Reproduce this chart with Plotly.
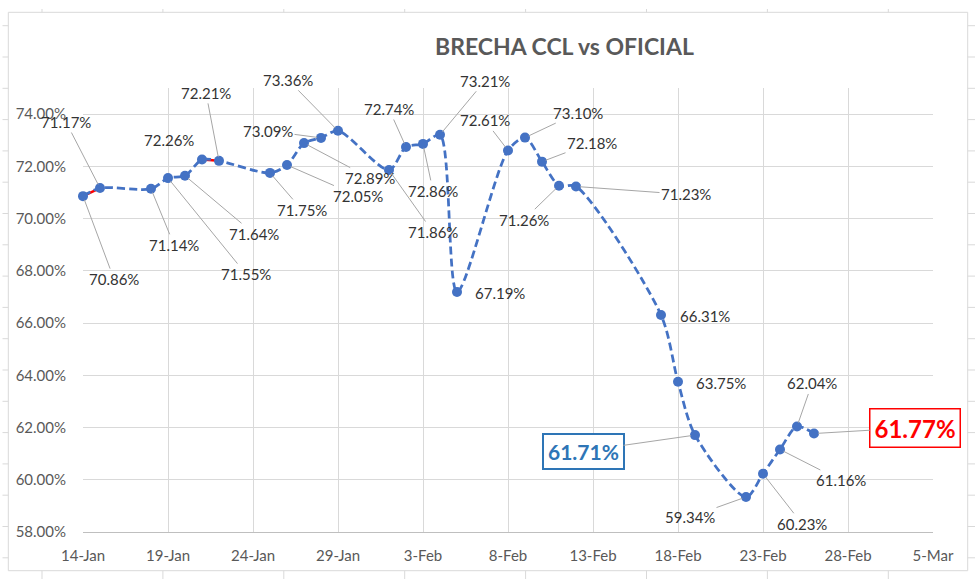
import plotly.graph_objects as go

# ---------------- data ----------------
dates = ["2021-01-14", "2021-01-15", "2021-01-18", "2021-01-19", "2021-01-20",
         "2021-01-21", "2021-01-22", "2021-01-25", "2021-01-26", "2021-01-27",
         "2021-01-28", "2021-01-29", "2021-02-01", "2021-02-02", "2021-02-03",
         "2021-02-04", "2021-02-05", "2021-02-08", "2021-02-09", "2021-02-10",
         "2021-02-11", "2021-02-12", "2021-02-17", "2021-02-18", "2021-02-19",
         "2021-02-22", "2021-02-23", "2021-02-24", "2021-02-25", "2021-02-26"]
brecha_pct = [70.86, 71.17, 71.14, 71.55, 71.64, 72.26, 72.21, 71.75, 72.05, 72.89,
              73.09, 73.36, 71.86, 72.74, 72.86, 73.21, 67.19, 72.61, 73.10, 72.18,
              71.26, 71.23, 66.31, 63.75, 61.71, 59.34, 60.23, 61.16, 62.04, 61.77]
red_segments = [(0, 1), (5, 6)]   # index pairs where a red line shows under the blue
title_text = "BRECHA CCL vs OFICIAL"

# ---------------- label placement (pixel offsets from point to label centre) ----------
label_offsets = [(31, 83), (-34, -66), (23, 56), (78, 96), (69, 58), (-33, -20), (-13, -68),
                 (32, 37), (71, 31), (66, 35), (-53, -7), (-50, -51), (44, 62), (-17, -38),
                 (10, 47), (45, -54), (43, 1), (-23, -30), (53, -25), (50, -19), (-35, 34),
                 (110, 8), (44, 1), (43, 1), (-112, 16), (-56, 20), (39, 50), (61, 31),
                 (15, -43), (101, -6)]
no_leader = {5, 16, 22, 23}
blue_box_idx = 24
red_box_idx = 29

W, H = 980, 583
L, R, T, B = 83, 47, 88, 51
PW, PH = W - L - R, H - T - B


def px_x(px):
    return (px - L) / PW


def px_y(py):
    return (H - B - py) / PH


values = [v / 100 for v in brecha_pct]
BLUE = "#4472C4"
GRID = "#D9D9D9"
FONT = "Lato"

fig = go.Figure()

# red underlying segments
rx, ry = [], []
for a, b in red_segments:
    rx += [dates[a], dates[b], None]
    ry += [values[a], values[b], None]
fig.add_trace(go.Scatter(x=rx, y=ry, mode="lines", line=dict(color="#FF0000", width=2.5),
                         hoverinfo="skip", showlegend=False, cliponaxis=False))

fig.add_trace(go.Scatter(
    x=dates, y=values, mode="lines+markers",
    line=dict(color=BLUE, width=2.75, dash="8px,4px", shape="spline", smoothing=0.8),
    marker=dict(color=BLUE, size=10),
    cliponaxis=False, showlegend=False,
))

annotations = []
for i, (d, v, lab) in enumerate(zip(dates, values, brecha_pct)):
    ax, ay = label_offsets[i]
    ann = dict(x=d, y=v, xref="x", yref="y", ax=ax, ay=ay, showarrow=True,
               text=f"{lab:.2f}%", arrowhead=0, arrowwidth=1, arrowcolor="#A6A6A6",
               standoff=4, startstandoff=0,
               font=dict(family=FONT, size=15, color="#333333"))
    if i in no_leader:
        ann["arrowcolor"] = "rgba(0,0,0,0)"
    if i == blue_box_idx:
        ann.update(font=dict(family=FONT, size=21, color="#2E75B6"),
                   bordercolor="#2E75B6", borderwidth=2, borderpad=4, bgcolor="white",
                   text=f"<b>{lab:.2f}%</b>")
    if i == red_box_idx:
        ann.update(font=dict(family=FONT, size=24, color="#FF0000"),
                   bordercolor="#FF0000", borderwidth=1.5, borderpad=4, bgcolor="white",
                   text=f"<b>{lab:.2f}%</b>")
    annotations.append(ann)

annotations.append(dict(x=px_x(564), y=px_y(45.5), xref="paper", yref="paper",
                        text=f"<b>{title_text}</b>", showarrow=False,
                        xanchor="center", yanchor="middle",
                        font=dict(family=FONT, size=23, color="#595959")))

shapes = []
# chart area border
shapes.append(dict(type="rect", xref="paper", yref="paper",
                   x0=px_x(8.3), x1=px_x(967.7), y0=px_y(570.7), y1=px_y(12.3),
                   line=dict(color=GRID, width=1), layer="below"))
# spreadsheet cell lines peeking out around the chart
for k in range(8):
    cx = 42 + 120.9 * k
    shapes.append(dict(type="line", xref="paper", yref="paper", x0=px_x(cx), x1=px_x(cx),
                       y0=px_y(9), y1=px_y(12.3), line=dict(color=GRID, width=1)))
    shapes.append(dict(type="line", xref="paper", yref="paper", x0=px_x(cx), x1=px_x(cx),
                       y0=px_y(570.7), y1=px_y(579), line=dict(color=GRID, width=1)))
for k in range(18):
    cy = 25.7 + 31.3 * k
    shapes.append(dict(type="line", xref="paper", yref="paper", x0=px_x(2.5), x1=px_x(8.3),
                       y0=px_y(cy), y1=px_y(cy), line=dict(color=GRID, width=1)))
    shapes.append(dict(type="line", xref="paper", yref="paper", x0=px_x(967.7), x1=px_x(975),
                       y0=px_y(cy), y1=px_y(cy), line=dict(color=GRID, width=1)))

fig.update_layout(
    width=W, height=H, autosize=False,
    margin=dict(l=L, r=R, t=T, b=B, pad=0),
    paper_bgcolor="white", plot_bgcolor="white",
    annotations=annotations, shapes=shapes,
    font=dict(family=FONT),
)
fig.update_xaxes(
    type="date", range=["2021-01-14", "2021-03-05"],
    tick0="2021-01-14", dtick=5 * 86400000, tickformat="%-d-%b",
    showgrid=True, gridcolor=GRID, gridwidth=1,
    showline=True, linecolor="#BFBFBF", linewidth=1,
    zeroline=False, ticks="", ticklabelstandoff=10,
    tickfont=dict(family=FONT, size=15, color="#595959"),
)
fig.update_yaxes(
    range=[0.58, 0.75], tick0=0.58, dtick=0.02, tickformat=".2%",
    showgrid=True, gridcolor=GRID, gridwidth=1, zeroline=False, showline=False,
    ticks="", ticklabelstandoff=16,
    tickfont=dict(family=FONT, size=15, color="#595959"),
)

fig.write_html("out.html")
